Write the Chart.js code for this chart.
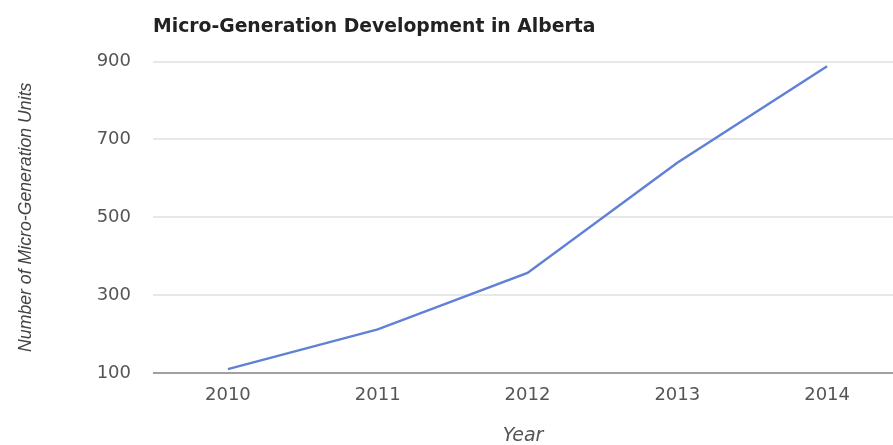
<!DOCTYPE html>
<html>
<head>
<meta charset="utf-8">
<script src="https://cdn.jsdelivr.net/npm/chart.js@4/dist/chart.umd.min.js"></script>
<style>
  html, body { margin: 0; padding: 0; background: #fff; overflow: hidden; }
  #wrap { width: 893px; height: 445px; position: relative; }
</style>
</head>
<body>
<div id="wrap"><canvas id="chart"></canvas></div>
<script>
// Installed micro-generation units per year
const years = [2010, 2011, 2012, 2013, 2014];
const units = [110, 212, 357, 640, 888];
const yTicks = [100, 300, 500, 700, 900];

const chartTitle = 'Micro-Generation Development in Alberta';
const yTitle = 'Number of Micro-Generation Units';
const xTitle = 'Year';

const points = years.map((yr, i) => ({ x: yr, y: units[i] }));

new Chart(document.getElementById('chart'), {
  type: 'line',
  data: {
    datasets: [{
      data: points,
      borderColor: '#6081d6',
      borderWidth: 2.5,
      pointRadius: 0,
      tension: 0,
      fill: false
    }]
  },
  options: {
    responsive: true,
    maintainAspectRatio: false,
    animation: false,
    layout: { padding: 0 },
    plugins: {
      legend: { display: false },
      tooltip: { enabled: false },
      title: {
        display: true,
        text: chartTitle,
        align: 'start',
        fullSize: false,
        color: '#222',
        font: { family: 'DejaVu Sans', size: 18.8, weight: 'bold', lineHeight: 1.2 },
        padding: { top: 16, bottom: 23 }
      }
    },
    scales: {
      x: {
        type: 'linear',
        min: 2009.5,
        max: 2014.44,
        afterBuildTicks: s => { s.ticks = years.map(v => ({ value: v })); },
        afterFit: s => { s.height = 72; },
        grid: { display: false },
        border: { display: false },
        ticks: {
          callback: v => String(v),
          color: '#555',
          font: { family: 'DejaVu Sans', size: 18 },
          padding: 4,
          maxRotation: 0,
          autoSkip: false
        },
        title: {
          display: true,
          text: xTitle,
          color: '#555',
          font: { family: 'DejaVu Sans', size: 19, style: 'italic', lineHeight: 0.9 },
          padding: { top: 0, bottom: 0 }
        }
      },
      y: {
        min: 100,
        max: 900,
        afterBuildTicks: s => { s.ticks = yTicks.map(v => ({ value: v })); },
        afterFit: s => { s.width = 153; },
        grid: {
          color: c => (c.tick && c.tick.value === 100) ? '#a0a0a0' : '#e8e8e8',
          lineWidth: 2,
          drawTicks: false
        },
        border: { display: false },
        ticks: {
          color: '#555',
          font: { family: 'DejaVu Sans', size: 18 },
          padding: 22
        },
        title: {
          display: true,
          text: yTitle,
          color: '#444',
          font: { family: 'Liberation Sans', size: 17.7, style: 'italic', lineHeight: 1.2 },
          padding: { top: 15, bottom: 0 }
        }
      }
    }
  }
});
</script>
</body>
</html>
